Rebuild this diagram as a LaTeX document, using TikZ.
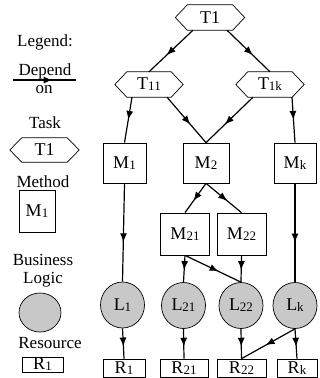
\documentclass[tikz,border=0pt]{standalone}
\usepackage{fontspec}
\setmainfont{Liberation Serif}
\usetikzlibrary{arrows.meta,decorations.markings,shapes.geometric}
\definecolor{lgray}{RGB}{200,200,200}
\newcommand{\sbx}[1]{\raisebox{-1pt}{\fontsize{13}{13}\selectfont #1}}
\newcommand{\drawhex}[1]{\draw[line width=0.7pt] ([xshift=-12pt]#1.west) -- (#1.north west) -- (#1.north east) -- ([xshift=12pt]#1.east) -- (#1.south east) -- (#1.south west) -- cycle;}
\begin{document}
\begin{tikzpicture}[x=1pt,y=-1pt,
  every node/.style={inner sep=0pt, font=\fontsize{18}{20}\selectfont},
  box/.style={draw, line width=0.7pt, rectangle},
  hexmid/.style={rectangle, minimum height=25pt},
  logic/.style={draw, ellipse, fill=lgray, line width=0.7pt, minimum width=44pt, minimum height=46pt},
  lbl/.style={anchor=base, font=\fontsize{17}{19}\selectfont},
  dep/.style={line width=1.2pt, postaction={decorate}, decoration={markings, mark=at position #1 with {\arrow{Latex[length=9pt,width=7pt]}}}},
  dep/.default=0.6]
\useasboundingbox (0,0) rectangle (320,378);
% tasks
\node[hexmid, minimum width=45pt] (T1) at (210,17.5) {T1};
\node[hexmid, minimum width=44pt] (T11) at (149,84.5) {T\sbx{11}};
\node[hexmid, minimum width=44pt] (T1k) at (270,84.5) {T\sbx{1k}};
\drawhex{T1}\drawhex{T11}\drawhex{T1k}
% methods
\node[box, minimum width=43pt, minimum height=40pt] (M1) at (124.5,163) {M\sbx{1}};
\node[box, minimum width=46pt, minimum height=40pt] (M2) at (206,163) {M\sbx{2}};
\node[box, minimum width=42pt, minimum height=40pt] (Mk) at (295,163) {M\sbx{k}};
\node[box, minimum width=49pt, minimum height=42pt] (M21) at (185,234) {M\sbx{21}};
\node[box, minimum width=49pt, minimum height=42pt] (M22) at (241.5,234) {M\sbx{22}};
% logic
\node[logic] (L1) at (122.5,305) {L\sbx{1}};
\node[logic] (L21) at (183.5,305.5) {L\sbx{21}};
\node[logic] (L22) at (241,305.5) {L\sbx{22}};
\node[logic] (Lk) at (295,305.5) {L\sbx{k}};
% resources
\node[box, minimum width=42pt, minimum height=18pt] (R1) at (124,368) {R\sbx{1}};
\node[box, minimum width=48pt, minimum height=18pt] (R21) at (184,368) {R\sbx{21}};
\node[box, minimum width=49pt, minimum height=18pt] (R22) at (241.5,368) {R\sbx{22}};
\node[box, minimum width=40pt, minimum height=18pt] (Rk) at (297,368) {R\sbx{k}};
% legend
\node[lbl] (lg) at (45,46) {Legend:};
\node[lbl] (dp) at (45,75) {Depend};
\coordinate (da) at (13,80);
\coordinate (db) at (76,80);
\draw[dep=0.63] (da) -- (db);
\node[lbl] (on) at (44,93) {on};
\node[lbl] (tk) at (45,128) {Task};
\node[hexmid, minimum width=45pt, minimum height=24pt] (LT) at (44.5,150) {T1};
\drawhex{LT}
\node[lbl] (md) at (43,187) {Method};
\node[box, minimum width=36pt, minimum height=42pt] (LM) at (37,211) {M\sbx{1}};
\node[lbl] (bs) at (43,265) {Business};
\node[lbl] (lo) at (43,283.5) {Logic};
\node[logic, minimum width=42pt, minimum height=39pt] (LL) at (40,312.5) {};
\node[lbl] (rs) at (50,348) {Resource};
\node[box, minimum width=41pt, minimum height=15pt] (LR) at (42.5,364.5) {R\sbx{1}};
% edges
\draw[dep] ([xshift=-17pt]T1.south) -- (T11.north);
\draw[dep] ([xshift=17pt]T1.south) -- (T1k.north);
\draw[dep=0.5] ([xshift=-17pt]T11.south) -- (M1.north);
\draw[dep] ([xshift=18pt]T11.south) -- (M2.north);
\draw[dep] ([xshift=-17pt]T1k.south) -- (M2.north);
\draw[dep=0.5] ([xshift=22pt]T1k.south) -- (Mk.north);
\draw[dep] (M2.south) -- (M21.north);
\draw[dep] (M2.south) -- (M22.north);
\draw[dep] (M1.south) -- (L1.north);
\draw[dep] (Mk.south) -- (Lk.north);
\draw[dep=0.55] (M21.south) -- (L21.north);
\draw[dep] (M21.south) -- (L22.north);
\draw[dep=0.55] (M22.south) -- (L22.north);
\draw[dep=0.6] (L1.south) -- (R1.north);
\draw[dep=0.6] (L21.south) -- (R21.north);
\draw[dep=0.6] (L22.south) -- (R22.north);
\draw[dep=0.6] (Lk.south) -- (Rk.north);
\draw[dep=0.55] (Lk.south) -- (R22.north);
\end{tikzpicture}
\end{document}
